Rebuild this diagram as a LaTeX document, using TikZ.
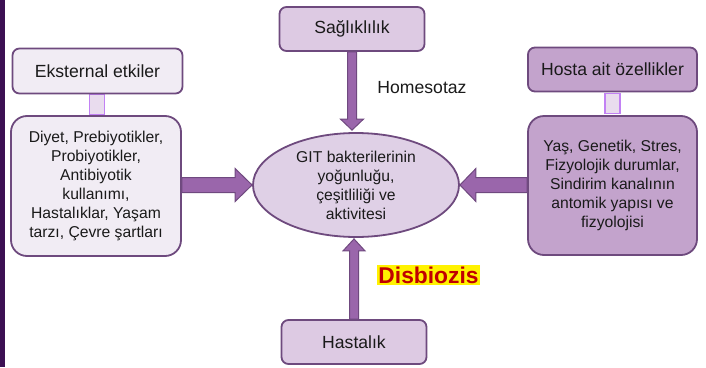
\documentclass[tikz,border=0pt]{standalone}
\usepackage{fontspec}
\setmainfont{Liberation Sans}
\usetikzlibrary{calc,shapes.geometric}

\definecolor{sidebar}{HTML}{3C1053}
\definecolor{edge}{HTML}{6E4A7E}
\definecolor{paleFill}{HTML}{F1ECF4}
\definecolor{lightFill}{HTML}{DDCAE3}
\definecolor{midFill}{HTML}{C3A3CC}
\definecolor{ellFill}{HTML}{DFD0E6}
\definecolor{arrowFill}{HTML}{9A66AB}
\definecolor{arrowEdge}{HTML}{6F497F}
\definecolor{linkFill}{HTML}{E9DCEE}
\definecolor{linkEdge}{HTML}{C281F4}
\definecolor{ink}{HTML}{1A1A1A}
\definecolor{alarm}{HTML}{C00000}

\tikzset{
  box/.style={draw=edge, line width=1.8pt, rounded corners=7pt, inner sep=0pt,
    text=ink, align=center, font=\fontsize{17.6}{21}\selectfont},
  bigbox/.style={draw=edge, line width=1.8pt, rounded corners=16pt, inner sep=0pt,
    text=ink, align=center, font=\fontsize{15.7}{19}\selectfont},
  link/.style={draw=linkEdge, fill=linkFill, line width=1.6pt, inner sep=0pt,
    minimum width=15pt, minimum height=20pt},
  blk/.style={fill=arrowFill, draw=arrowEdge, line width=1pt, line join=miter},
  plain/.style={text=ink, inner sep=0pt, font=\fontsize{17.6}{21}\selectfont}
}

\begin{document}
\begin{tikzpicture}[x=1pt, y=-1pt]
  \useasboundingbox (0,0) rectangle (706,367);
  \fill[sidebar] (0,0) rectangle (4.5,367);

  % small links between the headers and their detail boxes
  \node[link] (lk1) at (97,104.5) {};
  \node[link] (lk2) at (612.5,103.5) {};

  % left column: external factors
  \node[box, fill=paleFill, minimum width=170pt, minimum height=45pt] (ext) at (97.5,71) {Eksternal etkiler};
  \node[bigbox, fill=paleFill, minimum width=170pt, minimum height=140pt] (lbox) at (96,186)
    {Diyet, Prebiyotikler,\\Probiyotikler,\\Antibiyotik\\kullanımı,\\Hastalıklar, Yaşam\\tarzı, Çevre şartları};

  % right column: host features
  \node[box, fill=midFill, minimum width=169pt, minimum height=44pt] (host) at (612.5,69.5) {Hosta ait özellikler};
  \node[bigbox, fill=midFill, minimum width=169pt, minimum height=139pt] (rbox) at (612.5,185.5)
    {Yaş, Genetik, Stres,\\Fizyolojik durumlar,\\Sindirim kanalının\\antomik yapısı ve\\fizyolojisi};

  % top and bottom states
  \node[box, fill=lightFill, minimum width=145pt, minimum height=44pt] (sag) at (352,29) {Sağlıklılık};
  \node[box, fill=lightFill, minimum width=145pt, minimum height=44pt] (has) at (354,342) {Hastalık};

  % central ellipse
  \node[ellipse, draw=edge, line width=1.8pt, fill=ellFill, minimum width=206pt, minimum height=104pt,
    inner sep=0pt, align=center, text=ink, font=\fontsize{15.7}{19}\selectfont] (ell) at (356,185)
    {GIT bakterilerinin\\yoğunluğu,\\çeşitliliği ve\\aktivitesi};

  % labels
  \node[plain] (hom) at (422,88) {Homesotaz};
  \node[fill=yellow, text=alarm, inner xsep=1.2pt, inner ysep=2pt,
    font=\bfseries\fontsize{22.8}{25}\selectfont] (dis) at (428.5,275) {Disbiozis};

  % block arrows
  \coordinate (ltip) at (ell.west);
  \draw[blk] ($(lbox.east |- ltip)+(0,-7.5)$) -- ($(ltip)+(-17,-7.5)$) -- ($(ltip)+(-17,-16.5)$)
    -- (ltip) -- ($(ltip)+(-17,16.5)$) -- ($(ltip)+(-17,7.5)$) -- ($(lbox.east |- ltip)+(0,7.5)$) -- cycle;

  \coordinate (rtip) at (ell.east);
  \draw[blk] ($(rbox.west |- rtip)+(0,-7.5)$) -- ($(rtip)+(16,-7.5)$) -- ($(rtip)+(16,-16.5)$)
    -- (rtip) -- ($(rtip)+(16,16.5)$) -- ($(rtip)+(16,7.5)$) -- ($(rbox.west |- rtip)+(0,7.5)$) -- cycle;

  \coordinate (dtip) at ($(sag.south |- ell.north)+(0,-2)$);
  \draw[blk] ($(sag.south)+(-4.5,0)$) -- ($(dtip)+(-4.5,-11)$) -- ($(dtip)+(-11.5,-11)$)
    -- (dtip) -- ($(dtip)+(11.5,-11)$) -- ($(dtip)+(4.5,-11)$) -- ($(sag.south)+(4.5,0)$) -- cycle;

  \coordinate (utip) at ($(has.north |- ell.south)+(0,1)$);
  \draw[blk] ($(has.north)+(-4.5,0)$) -- ($(utip)+(-4.5,12)$) -- ($(utip)+(-11,12)$)
    -- (utip) -- ($(utip)+(11,12)$) -- ($(utip)+(4.5,12)$) -- ($(has.north)+(4.5,0)$) -- cycle;
\end{tikzpicture}
\end{document}
